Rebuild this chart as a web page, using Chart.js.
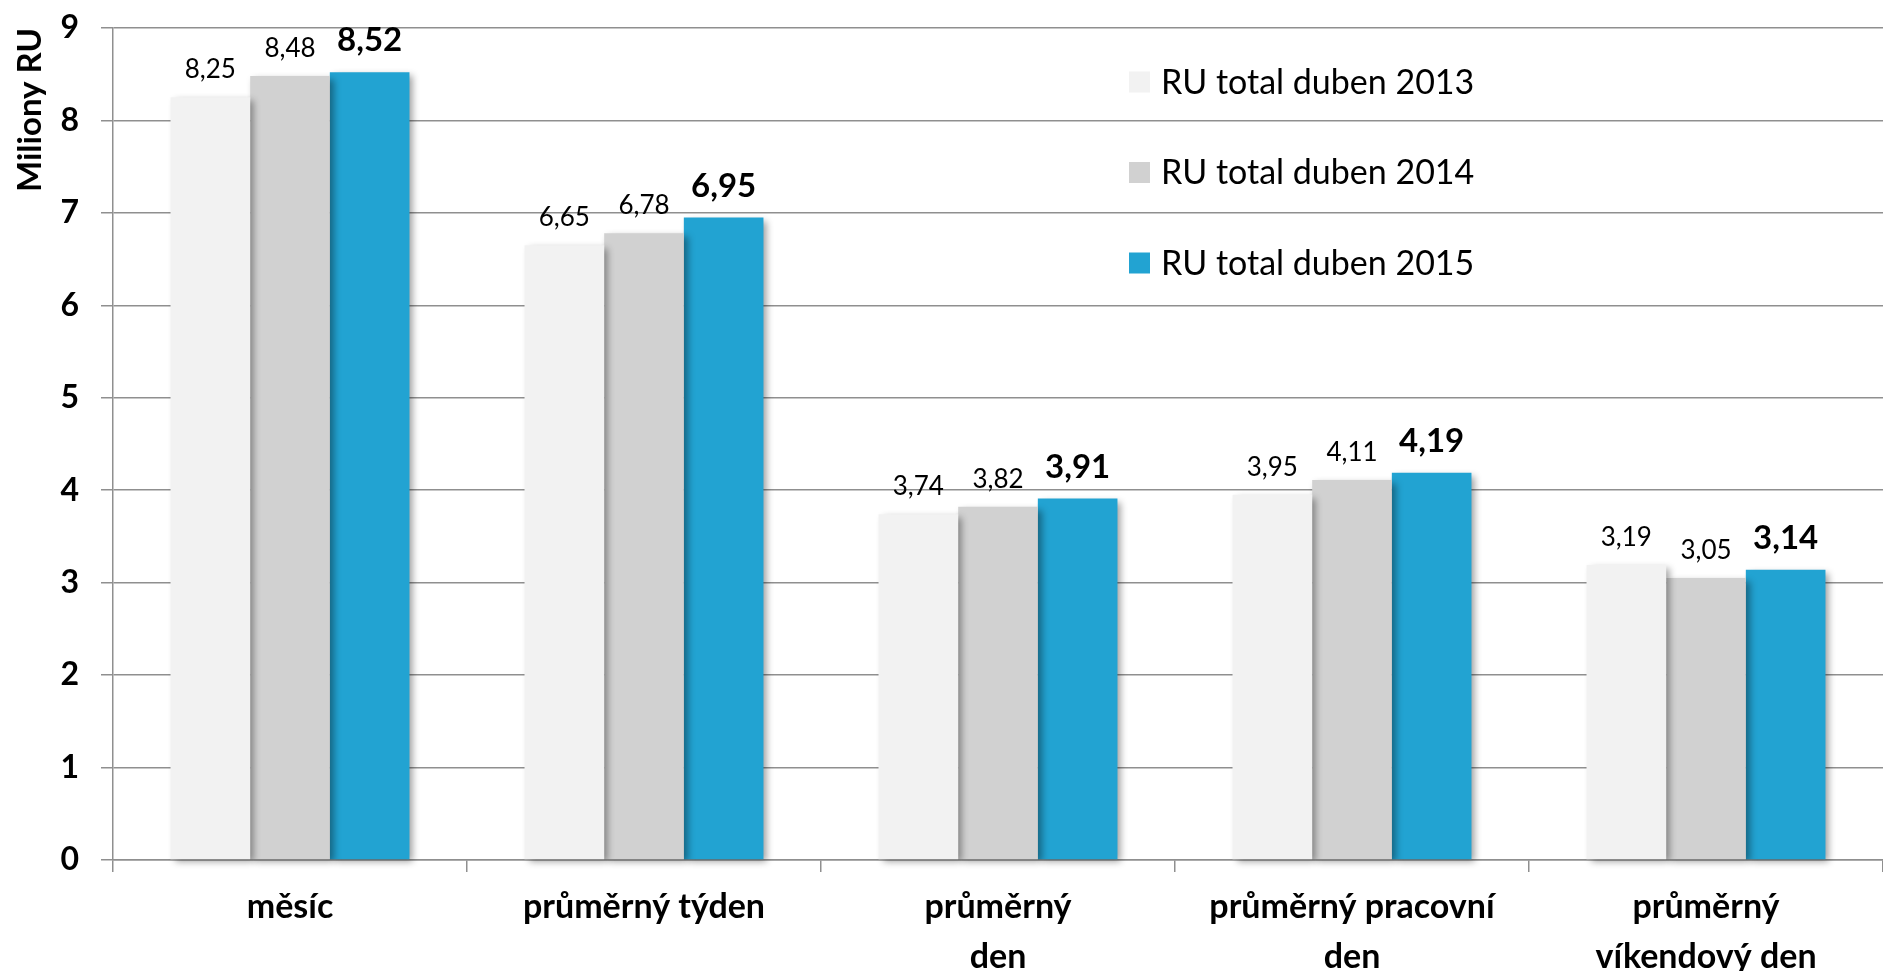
<!DOCTYPE html>
<html>
<head>
<meta charset="utf-8">
<script src="https://cdn.jsdelivr.net/npm/chart.js@4.4.1/dist/chart.umd.min.js"></script>
<style>
    html, body { margin: 0; padding: 0; background: #fff; }
    #wrap { width: 1883px; height: 971px; position: relative; }
</style>
</head>
<body>
<div id="wrap"><canvas id="chart"></canvas></div>
<script>
// ── Data ──
const categories = [
    'měsíc',
    'průměrný týden',
    ['průměrný', 'den'],
    ['průměrný pracovní', 'den'],
    ['průměrný', 'víkendový den'],
];
const seriesNames = ['RU total duben 2013', 'RU total duben 2014', 'RU total duben 2015'];
const ru2013 = [8.25, 6.65, 3.74, 3.95, 3.19];
const ru2014 = [8.48, 6.78, 3.82, 4.11, 3.05];
const ru2015 = [8.52, 6.95, 3.91, 4.19, 3.14];
const yTicks = [0, 1, 2, 3, 4, 5, 6, 7, 8, 9];

const FONT = "Lato, 'Open Sans', sans-serif";
const GRID = '#8f8f8f';
const colors = ['#f2f2f2', '#d1d1d1', '#22a3d2'];

// soft drop shadow under the bars (like the office chart)
const barShadow = {
    id: 'barShadow',
    beforeDatasetsDraw(chart) {
        const ctx = chart.ctx;
        ctx.save();
        ctx.shadowColor = 'rgba(0,0,0,0.38)';
        ctx.shadowBlur = 7;
        ctx.shadowOffsetX = 4;
        ctx.shadowOffsetY = 3;
    },
    afterDatasetsDraw(chart) {
        chart.ctx.restore();
    },
};

// value labels above bars, czech decimal comma, last series bold
const valueLabels = {
    id: 'valueLabels',
    afterDatasetsDraw(chart) {
        const ctx = chart.ctx;
        ctx.save();
        ctx.textAlign = 'center';
        ctx.textBaseline = 'alphabetic';
        ctx.fillStyle = '#000';
        chart.data.datasets.forEach((ds, di) => {
            const meta = chart.getDatasetMeta(di);
            const bold = di === chart.data.datasets.length - 1;
            ctx.font = bold ? `bold 33px ${FONT}` : `26px ${FONT}`;
            meta.data.forEach((bar, i) => {
                const txt = ds.data[i].toFixed(2).replace('.', ',');
                ctx.fillText(txt, bar.x, bar.y - (bold ? 21 : 19));
            });
        });
        ctx.restore();
    },
};

// legend drawn inside the plot, top right
const innerLegend = {
    id: 'innerLegend',
    afterDraw(chart) {
        const ctx = chart.ctx;
        const x0 = 1129, y0 = 82, gap = 90.5, box = 21;
        ctx.save();
        ctx.font = `34px ${FONT}`;
        ctx.textBaseline = 'middle';
        ctx.textAlign = 'left';
        chart.data.datasets.forEach((ds, i) => {
            const y = y0 + i * gap;
            ctx.fillStyle = ds.backgroundColor;
            ctx.fillRect(x0, y - box / 2, box, box);
            ctx.fillStyle = '#000';
            ctx.fillText(ds.label, x0 + 32, y + 1);
        });
        ctx.restore();
    },
};

const datasets = [ru2013, ru2014, ru2015].map((vals, i) => ({
    label: seriesNames[i],
    data: vals,
    backgroundColor: colors[i],
    borderWidth: 0,
    categoryPercentage: 0.675,
    barPercentage: 1.0,
    clip: 12,
}));

new Chart(document.getElementById('chart'), {
    type: 'bar',
    data: { labels: categories, datasets },
    options: {
        responsive: true,
        maintainAspectRatio: false,
        animation: false,
        devicePixelRatio: 1,
        layout: { padding: { top: 28, right: 0, left: 0, bottom: 0 } },
        plugins: {
            legend: { display: false },
            tooltip: { enabled: false },
        },
        scales: {
            x: {
                grid: { drawOnChartArea: false, drawTicks: true, tickLength: 12, color: GRID, lineWidth: 1.5, offset: true },
                border: { color: GRID, width: 1.5 },
                ticks: {
                    color: '#000',
                    padding: 10,
                    maxRotation: 0,
                    autoSkip: false,
                    font: { family: FONT, size: 34, weight: 'bold', lineHeight: 1.47 },
                },
                afterFit(scale) {
                    scale.height = 111;
                    scale.paddingLeft = 0;
                    scale.paddingRight = 0;
                },
            },
            y: {
                min: 0,
                max: 9,
                afterBuildTicks(scale) { scale.ticks = yTicks.map(v => ({ value: v })); },
                grid: { color: GRID, lineWidth: 1.5, tickLength: 12 },
                border: { color: GRID, width: 1.5 },
                ticks: {
                    color: '#000',
                    padding: 22,
                    font: { family: FONT, size: 32, weight: 'bold' },
                },
                title: {
                    display: true,
                    text: 'Miliony RU',
                    align: 'end',
                    color: '#000',
                    padding: { top: 11, bottom: 0 },
                    font: { family: FONT, size: 33, weight: 'bold' },
                },
                afterFit(scale) {
                    scale.width = 113;
                    scale.paddingTop = 0;
                    scale.paddingBottom = 0;
                },
            },
        },
    },
    plugins: [barShadow, valueLabels, innerLegend],
});
</script>
</body>
</html>
